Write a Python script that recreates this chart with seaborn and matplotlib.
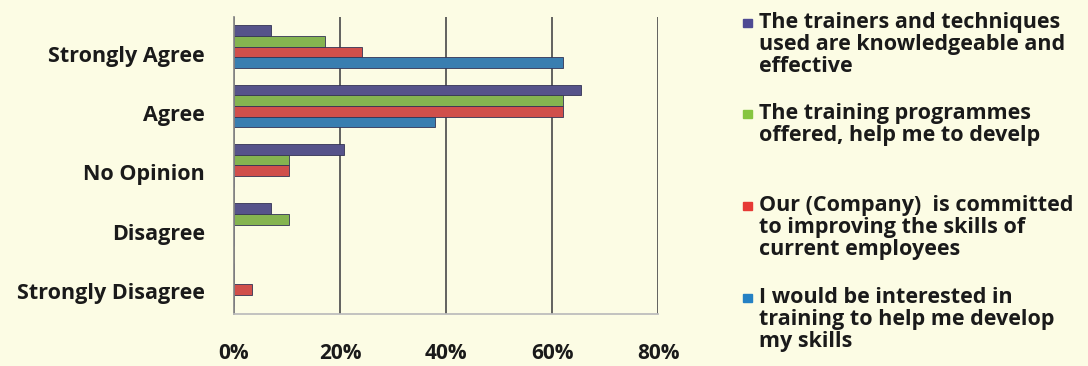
import numpy as np
import pandas as pd
import seaborn as sns
import matplotlib.pyplot as plt
from matplotlib.transforms import ScaledTranslation
from matplotlib.patches import Rectangle

# Respuestas (porcentaje de 29 encuestados)
categories = ["Strongly Agree", "Agree", "No Opinion", "Disagree", "Strongly Disagree"]
series = [
    "The trainers and techniques\nused are knowledgeable and\neffective",
    "The training programmes\noffered, help me to develp",
    "Our (Company)  is committed\nto improving the skills of\ncurrent employees",
    "I would be interested in\ntraining to help me develop\nmy skills",
]
trainers = [6.9, 65.5, 20.7, 6.9, 0.0]
programmes = [17.2, 62.1, 10.3, 10.3, 0.0]
company = [24.1, 62.1, 10.3, 0.0, 3.4]
interested = [62.1, 37.9, 0.0, 0.0, 0.0]
colors = ["#4E4A93", "#86C53F", "#E63A35", "#2581C4"]
xticks = [0, 20, 40, 60, 80]

bg = "#FCFCE4"
sns.set_theme(style="white")
plt.rcParams["font.family"] = ["Open Sans", "DejaVu Sans"]

df = pd.DataFrame({
    "category": categories * 4,
    "series": np.repeat(series, 5),
    "value": trainers + programmes + company + interested,
})

fig = plt.figure(figsize=(10.88, 3.66), dpi=100, facecolor=bg)
ax = fig.add_axes([0.215, 0.142, 0.39, 0.812])
ax.set_facecolor(bg)

sns.barplot(data=df, y="category", x="value", hue="series", order=categories,
            hue_order=series, palette=colors, orient="h", width=0.72,
            edgecolor="#333355", linewidth=0.6, legend=False, ax=ax)

ax.set_xlim(0, 80)
ax.set_xticks(xticks)
ax.set_xticklabels([f"{t}%" for t in xticks])
ax.set_xlabel("")
ax.set_ylabel("")
ax.xaxis.grid(True, color="#555555", linewidth=1.3)
ax.set_axisbelow(True)
for s in ["top", "right"]:
    ax.spines[s].set_visible(False)
ax.spines["left"].set_color("#888888")
ax.spines["bottom"].set_color("#bbbbbb")
ax.tick_params(axis="x", pad=21, length=0, labelsize=15, colors="#1a1a1a")
ax.tick_params(axis="y", pad=18, length=3, labelsize=15.5, colors="#1a1a1a")
for lab in ax.get_xticklabels() + ax.get_yticklabels():
    lab.set_fontweight("bold")
for lab in ax.get_yticklabels():
    lab.set_transform(lab.get_transform() + ScaledTranslation(0, -7 / 100, fig.dpi_scale_trans))

# Leyenda a la derecha
tops = [12, 103, 195, 287]
for c, lab, t in zip(colors, series, tops):
    y = 1 - t / 366
    fig.patches.append(Rectangle((743 / 1088, 1 - (t + 15) / 366), 9 / 1088, 8 / 366,
                                 transform=fig.transFigure, color=c))
    fig.text(759 / 1088, y, lab, ha="left", va="top", fontsize=15.5, fontweight="bold",
             color="#1a1a1a", linespacing=1.07)

fig.savefig("out.png", dpi=100, facecolor=bg)
